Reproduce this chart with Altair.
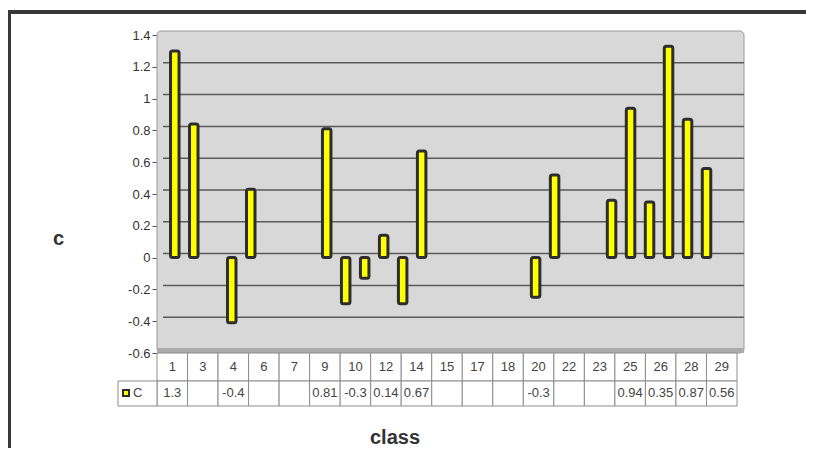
import altair as alt
import pandas as pd

# ---- data ----
categories = ["1", "3", "4", "6", "7", "9", "10", "12", "14", "15", "17", "18",
              "20", "22", "23", "25", "26", "28", "29"]
table_values = [1.3, None, -0.4, None, None, 0.81, -0.3, 0.14, 0.67, None, None, None,
                -0.3, None, None, 0.94, 0.35, 0.87, 0.56]
bar_classes = [1, 2, 4, 5, 9, 10, 11, 12, 13, 14, 20, 21, 24, 25, 26, 27, 28, 29]
bar_values = [1.3, 0.84, -0.41, 0.43, 0.81, -0.29, -0.13, 0.14, -0.29, 0.67, -0.25,
              0.52, 0.36, 0.94, 0.35, 1.33, 0.87, 0.56]
y_ticks = [-0.6, -0.4, -0.2, 0, 0.2, 0.4, 0.6, 0.8, 1, 1.2, 1.4]
grid_values = [-0.4, -0.2, 0, 0.2, 0.4, 0.6, 0.8, 1, 1.2]
series_name = "C"
x_title = "class"
y_title = "c"

FONT = "Liberation Sans"
W, H = 587, 318

bars_df = pd.DataFrame({"cls": bar_classes, "val": bar_values})
grid_df = pd.DataFrame({"val": grid_values})
tbl_df = pd.DataFrame({
    "cat": categories,
    "vtxt": ["" if v is None else str(v) for v in table_values],
})
one = pd.DataFrame({"a": [0]})

yscale = alt.Scale(domain=[-0.6, 1.4], nice=False, zero=False)
xband = alt.Scale(domain=categories, range=[0, 580], paddingInner=0, paddingOuter=0)

yaxis = alt.Axis(values=y_ticks, labelExpr="'' + datum.value", grid=False,
                 tickSize=5, tickColor="#555", domainColor="#808080",
                 labelFont=FONT, labelFontSize=13, labelColor="#333",
                 labelPadding=2,
                 title=y_title, titleAngle=0, titleX=-99, titleY=203,
                 titleAlign="center", titleBaseline="middle",
                 titleFont=FONT, titleFontSize=20, titleFontWeight="bold",
                 titleColor="#333")

# outer frame (top and left thick borders)
frame_top = alt.Chart(one).mark_rule(color="#383838", strokeWidth=4).encode(
    x=alt.value(-150), x2=alt.value(720), y=alt.value(-23))
frame_left = alt.Chart(one).mark_rule(color="#383838", strokeWidth=4).encode(
    x=alt.value(-148), y=alt.value(-25), y2=alt.value(430))

# plot wall background
wall = alt.Chart(one).mark_rect(fill="#d8d8d8", stroke="#9a9a9a", strokeWidth=1,
                                cornerRadius=4).encode(
    x=alt.value(0), x2=alt.value(W), y=alt.value(-4), y2=alt.value(H))
floor = alt.Chart(one).mark_rect(fill="#acacac").encode(
    x=alt.value(0), x2=alt.value(W), y=alt.value(H - 5), y2=alt.value(H))

grid = alt.Chart(grid_df).mark_rule(color="#5a5a5a", strokeWidth=1.5, yOffset=-4).encode(
    y=alt.Y("val:Q", scale=yscale, axis=yaxis),
    x=alt.value(6), x2=alt.value(W))

bars = alt.Chart(bars_df).mark_bar(size=8.5, fill="#ffff00", stroke="#2d2d2d",
                                   strokeWidth=3, cornerRadius=2).encode(
    x=alt.X("cls:Q", scale=alt.Scale(domain=[0.327, 30.71], nice=False, zero=False),
            axis=None),
    y=alt.Y("val:Q", scale=yscale, axis=yaxis),
    y2=alt.datum(0))

cell_head = alt.Chart(tbl_df).mark_rect(fill="white", stroke="#8c8c8c", strokeWidth=1).encode(
    x=alt.X("cat:N", sort=categories, scale=xband, axis=None),
    y=alt.value(H), y2=alt.value(H + 28))
cell_val = alt.Chart(tbl_df).mark_rect(fill="white", stroke="#8c8c8c", strokeWidth=1).encode(
    x=alt.X("cat:N", sort=categories, scale=xband, axis=None),
    y=alt.value(H + 28), y2=alt.value(H + 53))
txt_head = alt.Chart(tbl_df).mark_text(font=FONT, fontSize=13, color="#444",
                                       baseline="middle").encode(
    x=alt.X("cat:N", sort=categories, scale=xband, axis=None),
    y=alt.value(H + 14), text="cat:N")
txt_val = alt.Chart(tbl_df).mark_text(font=FONT, fontSize=13, color="#444",
                                      baseline="middle").encode(
    x=alt.X("cat:N", sort=categories, scale=xband, axis=None),
    y=alt.value(H + 40), text="vtxt:N")

legend_cell = alt.Chart(one).mark_rect(fill="white", stroke="#8c8c8c", strokeWidth=1).encode(
    x=alt.value(-39), x2=alt.value(0), y=alt.value(H + 28), y2=alt.value(H + 53))
legend_sym = alt.Chart(one).mark_rect(fill="#ffff00", stroke="#2d2d2d", strokeWidth=2).encode(
    x=alt.value(-34), x2=alt.value(-28), y=alt.value(H + 37), y2=alt.value(H + 43))
legend_txt = alt.Chart(one).mark_text(font=FONT, fontSize=13, color="#444", align="left",
                                      baseline="middle", text=series_name).encode(
    x=alt.value(-24), y=alt.value(H + 40))

xtitle = alt.Chart(one).mark_text(font=FONT, fontSize=20, fontWeight="bold", color="#333",
                                  text=x_title, baseline="middle").encode(
    x=alt.value(238), y=alt.value(H + 85))

chart = alt.layer(
    frame_top, frame_left, wall, floor, grid, bars,
    cell_head, cell_val, txt_head, txt_val,
    legend_cell, legend_sym, legend_txt, xtitle
).resolve_scale(x="independent").properties(
    width=W, height=H,
    autosize=alt.AutoSizeParams(type="none"),
    padding={"left": 149, "top": 27, "right": 62, "bottom": 95},
    background="white",
).configure_view(strokeWidth=0)

chart.save("out.html", embed_options={"renderer": "svg", "actions": False})
